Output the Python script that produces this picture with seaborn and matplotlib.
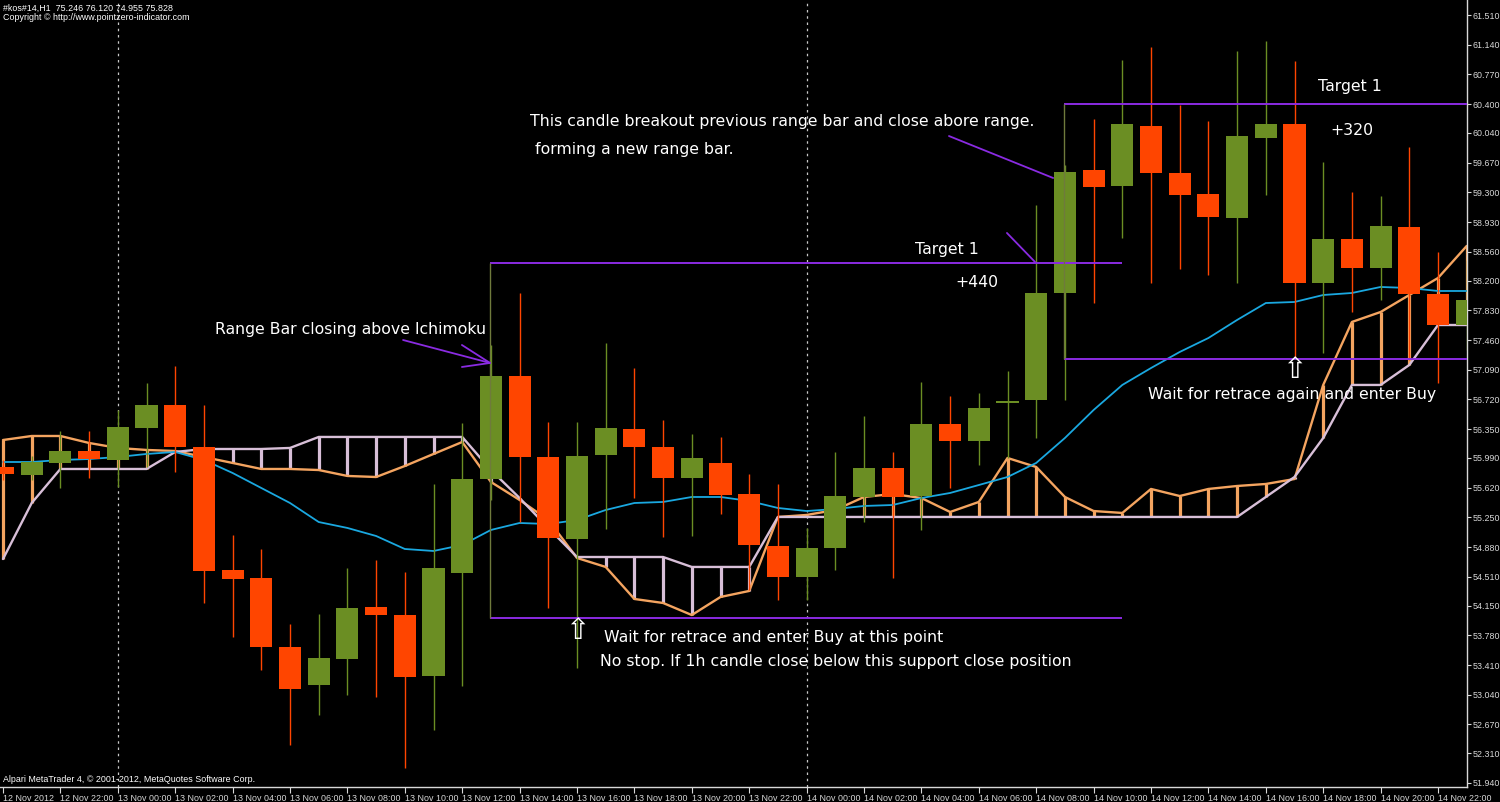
import numpy as np
import pandas as pd
import matplotlib
matplotlib.use("Agg")
import matplotlib.pyplot as plt
import seaborn as sns

# H1 candles, 12 Nov 2012 20:00 -> 14 Nov 2012 23:00
opens = [55.878, 55.778, 55.928, 56.077, 55.965, 56.364, 56.650, 56.127, 54.594, 54.494,
         53.635, 53.161, 53.485, 54.133, 54.033, 53.273, 54.557, 55.728, 57.012, 56.002,
         54.981, 56.027, 56.351, 56.127, 55.741, 55.928, 55.541, 54.893, 54.507, 54.868,
         55.504, 55.865, 55.516, 56.414, 56.202, 56.675, 56.713, 58.046, 59.579, 59.379,
         60.127, 59.541, 59.280, 58.981, 59.977, 60.152, 58.171, 58.719, 58.357, 58.868,
         58.033, 57.647]
highs = [55.965, 56.015, 56.326, 56.326, 56.588, 56.924, 57.136, 56.650, 55.030, 54.856,
         53.921, 54.046, 54.619, 54.719, 54.569, 55.666, 56.426, 57.398, 58.046, 56.439,
         56.439, 57.423, 57.111, 56.463, 56.289, 56.252, 55.791, 55.666, 55.118, 56.065,
         56.513, 56.065, 56.937, 56.762, 56.800, 57.074, 59.142, 59.641, 60.214, 60.949,
         61.111, 60.389, 60.189, 61.061, 61.186, 60.937, 59.678, 59.305, 59.255, 59.865,
         58.557, 58.457]
lows = [55.716, 55.716, 55.616, 55.741, 55.629, 55.878, 55.815, 54.183, 53.759, 53.348,
        52.414, 52.787, 53.037, 53.012, 52.127, 52.600, 53.149, 55.467, 55.192, 54.121,
        53.373, 55.105, 55.491, 55.005, 55.018, 55.292, 54.345, 54.220, 54.220, 54.594,
        55.192, 54.494, 55.093, 55.616, 55.903, 55.990, 56.239, 56.713, 57.921, 58.731,
        58.171, 58.345, 58.270, 58.171, 59.267, 57.236, 57.298, 57.809, 57.959, 57.211,
        56.924, 57.336]
closes = [55.791, 55.940, 56.077, 55.977, 56.376, 56.650, 56.127, 54.582, 54.482, 53.635,
          53.111, 53.498, 54.121, 54.033, 53.261, 54.619, 55.728, 57.012, 56.002, 54.993,
          56.015, 56.364, 56.127, 55.741, 55.990, 55.529, 54.906, 54.507, 54.868, 55.516,
          55.865, 55.504, 56.414, 56.202, 56.613, 56.700, 58.046, 59.554, 59.367, 60.152,
          59.541, 59.267, 58.993, 60.002, 60.152, 58.171, 58.719, 58.357, 58.881, 58.033,
          57.647, 57.959]

# ichimoku lines
span_a = [56.214, 56.264, 56.264, 56.177, 56.115, 56.090, 56.077, 56.002, 55.928, 55.853,
          55.853, 55.840, 55.766, 55.753, 55.890, 56.040, 56.189, 55.691, 55.467, 55.217,
          54.744, 54.632, 54.233, 54.183, 54.033, 54.258, 54.333, 55.255, 55.280, 55.342,
          55.504, 55.541, 55.491, 55.317, 55.442, 55.990, 55.878, 55.504, 55.329, 55.305,
          55.604, 55.516, 55.604, 55.641, 55.666, 55.728, 56.900, 57.685, 57.809, 58.021,
          58.233, 58.632]
span_b = [54.731, 55.429, 55.853, 55.853, 55.853, 55.853, 56.065, 56.102, 56.102, 56.102,
          56.115, 56.252, 56.252, 56.252, 56.252, 56.252, 56.252, 55.840, 55.491, 55.118,
          54.756, 54.756, 54.756, 54.756, 54.632, 54.632, 54.632, 55.255, 55.255, 55.255,
          55.255, 55.255, 55.255, 55.255, 55.255, 55.255, 55.255, 55.255, 55.255, 55.255,
          55.255, 55.255, 55.255, 55.255, 55.504, 55.753, 56.239, 56.900, 56.900, 57.149,
          57.647, 57.647]
kijun = [55.940, 55.940, 55.965, 55.977, 56.002, 56.040, 56.065, 55.965, 55.803, 55.616,
         55.429, 55.192, 55.118, 55.018, 54.856, 54.831, 54.906, 55.093, 55.180, 55.167,
         55.217, 55.342, 55.429, 55.442, 55.504, 55.504, 55.454, 55.367, 55.329, 55.354,
         55.392, 55.404, 55.491, 55.554, 55.653, 55.753, 55.928, 56.239, 56.588, 56.900,
         57.111, 57.311, 57.485, 57.710, 57.921, 57.934, 58.021, 58.046, 58.121, 58.108,
         58.071, 58.071]

time_labels = ["12 Nov 2012", "12 Nov 22:00", "13 Nov 00:00", "13 Nov 02:00", "13 Nov 04:00",
               "13 Nov 06:00", "13 Nov 08:00", "13 Nov 10:00", "13 Nov 12:00", "13 Nov 14:00",
               "13 Nov 16:00", "13 Nov 18:00", "13 Nov 20:00", "13 Nov 22:00", "14 Nov 00:00",
               "14 Nov 02:00", "14 Nov 04:00", "14 Nov 06:00", "14 Nov 08:00", "14 Nov 10:00",
               "14 Nov 12:00", "14 Nov 14:00", "14 Nov 16:00", "14 Nov 18:00", "14 Nov 20:00",
               "14 Nov 22:00"]
price_ticks = [61.510, 61.140, 60.770, 60.400, 60.040, 59.670, 59.300, 58.930, 58.560,
               58.200, 57.830, 57.460, 57.090, 56.720, 56.350, 55.990, 55.620, 55.250,
               54.880, 54.510, 54.150, 53.780, 53.410, 53.040, 52.670, 52.310, 51.940]
day_starts = [4, 28]

# range boxes: (first bar, last bar, top, bottom)
box1 = (17, 39, 58.42, 54.00)
box2 = (37, 53, 60.40, 57.22)

BULL = "#6b8e23"
BEAR = "#ff4500"
SANDY = "#f4a460"
THISTLE = "#d8bfd8"
BLUE = "#1aa8e0"
PURPLE = "#8a2be2"
TXT = "#ffffff"
AXC = "#d8d8d8"

sns.set_style("dark", rc={"axes.facecolor": "black", "figure.facecolor": "black",
                          "axes.edgecolor": AXC, "xtick.color": AXC, "ytick.color": AXC})
plt.rcParams["font.family"] = ["DejaVu Sans"]

fig = plt.figure(figsize=(15, 8.02), dpi=100)
ax = fig.add_axes([0, 15 / 802, 1467 / 1500, 787 / 802])

x = np.arange(len(opens))
o = np.array(opens); c = np.array(closes)
a = np.array(span_a); b = np.array(span_b)

# day separators
for d in day_starts:
    ax.axvline(d, color="#c8c8c8", ls=(0, (2, 3)), lw=0.9, zorder=0)

# kumo hatch
ax.vlines(x, np.minimum(a, b), np.maximum(a, b),
          colors=np.where(a >= b, SANDY, THISTLE), lw=2.3, zorder=1)

ich = pd.DataFrame({"bar": x, "Senkou A": a, "Senkou B": b, "Kijun": kijun})
sns.lineplot(data=ich, x="bar", y="Senkou A", color=SANDY, lw=1.7, ax=ax, zorder=2)
sns.lineplot(data=ich, x="bar", y="Senkou B", color=THISTLE, lw=1.7, ax=ax, zorder=2)
sns.lineplot(data=ich, x="bar", y="Kijun", color=BLUE, lw=1.3, ax=ax, zorder=3)

# candles
cols = np.where(c >= o, BULL, BEAR)
ax.vlines(x, lows, highs, colors=cols, lw=1, zorder=4)
ax.bar(x, np.maximum(np.abs(c - o), 0.02), bottom=np.minimum(o, c), width=0.77,
       color=cols, linewidth=0, zorder=5)

# range boxes
for x0, x1, top, bot in (box1, box2):
    ax.hlines([top, bot], x0 - 0.03, x1, color=PURPLE, lw=1.4, zorder=6)
    ax.vlines(x0 - 0.03, bot, top, color="#6f7a3c", lw=1, zorder=6)

# annotations
fs = 11.3
ax.text(7.39, 57.585, "Range Bar closing above Ichimoku", color=TXT, fontsize=fs, va="center")
ax.plot([13.94, 16.97], [57.46, 57.174], color=PURPLE, lw=1.3, zorder=7)
ax.plot([15.99, 16.97, 15.99], [57.398, 57.174, 57.124], color=PURPLE, lw=1.3, zorder=7)

ax.text(18.36, 60.177, "This candle breakout previous range bar and close abore range.",
        color=TXT, fontsize=fs, va="center")
ax.text(18.36, 59.828, " forming a new range bar.", color=TXT, fontsize=fs, va="center")
ax.plot([32.96, 36.59], [60.002, 59.479], color=PURPLE, lw=1.3, zorder=7)

ax.text(31.78, 58.582, "Target 1", color=TXT, fontsize=fs, va="center")
ax.text(33.17, 58.171, "+440", color=TXT, fontsize=fs, va="center")
ax.plot([34.98, 35.96], [58.794, 58.432], color=PURPLE, lw=1.3, zorder=7)

ax.text(45.82, 60.613, "Target 1", color=TXT, fontsize=fs, va="center")
ax.text(46.24, 60.077, "+320", color=TXT, fontsize=fs, va="center")

ax.text(20, 53.84, "\u21e7", color=TXT, fontsize=21, ha="center", va="center", zorder=8)
ax.text(20.94, 53.759, "Wait for retrace and enter Buy at this point", color=TXT,
        fontsize=fs, va="center")
ax.text(20.80, 53.448, "No stop. If 1h candle close below this support close position",
        color=TXT, fontsize=fs, va="center")

ax.text(45, 57.09, "\u21e7", color=TXT, fontsize=21, ha="center", va="center", zorder=8)
ax.text(39.90, 56.787, "Wait for retrace again and enter Buy", color=TXT,
        fontsize=fs, va="center", zorder=8)

# axes
ax.set_xlim(-0.1045, 51.01)
ax.set_ylim(51.890, 61.697)
ax.set_xlabel("")
ax.set_ylabel("")
ax.grid(False)
for s in ("top", "left"):
    ax.spines[s].set_visible(False)
for s in ("right", "bottom"):
    ax.spines[s].set_color(AXC)
    ax.spines[s].set_linewidth(1)

ax.set_xticks(np.arange(0, len(opens), 2))
ax.set_xticklabels(time_labels, ha="left", fontsize=6.4, family="Liberation Sans")
ax.tick_params(axis="x", length=4, width=0.8, pad=1, colors=AXC, bottom=True)
ax.yaxis.tick_right()
ax.set_yticks(price_ticks)
ax.set_yticklabels([f"{p:.3f}" for p in price_ticks], fontsize=6.4, family="Liberation Sans")
ax.tick_params(axis="y", length=3, width=0.8, pad=1, colors=AXC, right=True)

fig.text(3 / 1500, 1 - 8 / 802, "#kos#14,H1  75.246 76.120 74.955 75.828", color=TXT,
         fontsize=6.4, family="Liberation Sans", va="center")
fig.text(3 / 1500, 1 - 18 / 802, "Copyright \u00a9 http://www.pointzero-indicator.com",
         color=TXT, fontsize=6.4, family="Liberation Sans", va="center")
fig.text(3 / 1500, 1 - 779 / 802, "Alpari MetaTrader 4, \u00a9 2001-2012, MetaQuotes Software Corp.",
         color=TXT, fontsize=6.4, family="Liberation Sans", va="center")

fig.savefig("out.png", dpi=100, facecolor="black")
